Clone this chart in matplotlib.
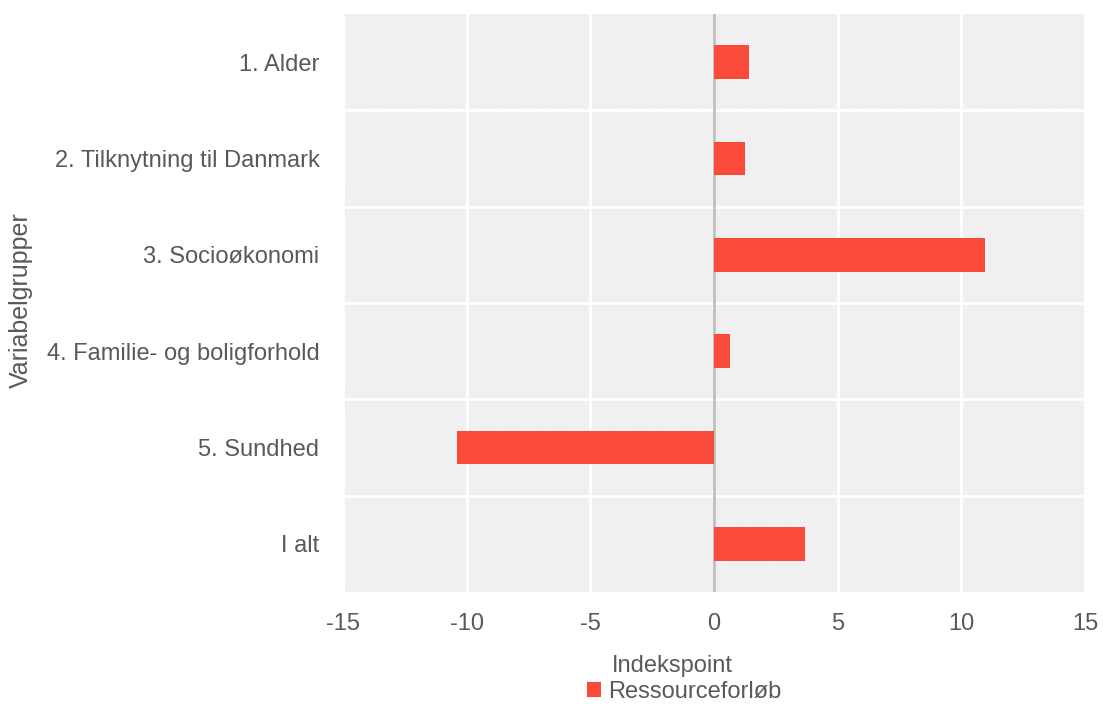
import matplotlib
matplotlib.use("Agg")
import matplotlib.pyplot as plt
from matplotlib.patches import Rectangle

plt.rcParams['font.family'] = ['Liberation Sans', 'DejaVu Sans']
plt.rcParams['hatch.linewidth'] = 0.5

categories = ["1. Alder", "2. Tilknytning til Danmark", "3. Socioøkonomi",
              "4. Familie- og boligforhold", "5. Sundhed", "I alt"]
values = [1.42, 1.25, 10.96, 0.65, -10.4, 3.68]
series_name = "Ressourceforløb"
xticks = [-15, -10, -5, 0, 5, 10, 15]

text_color = "#595959"
bar_color = "#FA4B3A"
fs = 17

fig = plt.figure(figsize=(11.03, 7.05), dpi=100)
ax = fig.add_axes([343/1103, 1-592/705, (1085-343)/1103, (592-14)/705])
ax.set_facecolor("#EFEFEF")
ax.add_patch(Rectangle((0, 0), 1, 1, transform=ax.transAxes, facecolor="none",
                       edgecolor="#F8F8F8", hatch="....", linewidth=0, zorder=0.5))

n = len(categories)
ypos = list(range(n))
ax.barh(ypos, values, height=0.35, color=bar_color, zorder=3, label=series_name)
ax.set_ylim(n - 0.5, -0.5)
ax.set_xlim(-15, 15)
ax.set_yticks(ypos)
ax.set_yticklabels(categories, fontsize=fs, color=text_color)
ax.set_xticks(xticks)
ax.set_xticklabels([str(t) for t in xticks], fontsize=fs, color=text_color)
ax.set_yticks([i + 0.5 for i in range(n - 1)], minor=True)
ax.tick_params(axis='both', which='both', length=0)
ax.tick_params(axis='y', pad=17)
ax.tick_params(axis='x', pad=15)
ax.grid(axis='x', which='major', color='white', linewidth=2, zorder=1)
ax.grid(axis='y', which='minor', color='white', linewidth=2, zorder=1)
ax.set_axisbelow(True)
ax.axvline(0, color="#BFBFBF", linewidth=2, zorder=2)
for s in ax.spines.values():
    s.set_visible(False)

fig.text(21/1103, 1-300/705, "Variabelgrupper", rotation=90, fontsize=18,
         color=text_color, ha='center', va='center')
fig.text(672/1103, 1-666/705, "Indekspoint", fontsize=fs, color=text_color,
         ha='center', va='center')
fig.legend(handles=ax.get_legend_handles_labels()[0], labels=[series_name],
           loc='center', bbox_to_anchor=(684/1103, 1-692/705), frameon=False,
           fontsize=fs, labelcolor=text_color, handlelength=0.6, handleheight=0.6,
           handletextpad=0.3, borderpad=0)

fig.savefig("out.png", dpi=100)
